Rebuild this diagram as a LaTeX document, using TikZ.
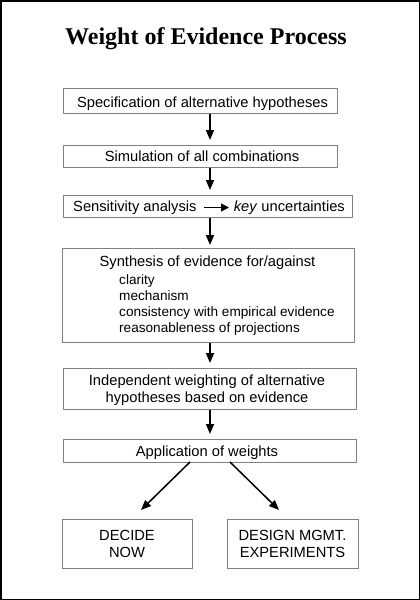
\documentclass[tikz,border=0pt]{standalone}
\usepackage{fontspec}
\setmainfont{Liberation Sans}
\newfontfamily\titlefont{Liberation Serif}
\usetikzlibrary{arrows.meta}
\tikzset{
  box/.style={draw=black!50, line width=0.8pt, fill=white, inner sep=0pt, anchor=north west},
  txt/.style={inner sep=0pt, anchor=base, font=\fontsize{14.7}{17}\selectfont},
  sub/.style={inner sep=0pt, anchor=base west, font=\fontsize{13.6}{16}\selectfont},
  arr/.style={line width=1.5pt, -{Triangle[length=10pt,width=8pt]}},
  smallarr/.style={line width=1.5pt, -{Triangle[length=8pt,width=8pt]}}
}
\begin{document}
\begin{tikzpicture}[x=1pt,y=-1pt]
\useasboundingbox (0,0) rectangle (420,600);
\draw[line width=1.5pt] (0.75,0.75) rectangle (419.25,599.25);
% title
\node[inner sep=0pt, anchor=base, font=\titlefont\bfseries\fontsize{24}{28}\selectfont] (title) at (206,44.5) {Weight of Evidence Process};
% boxes
\node[box, minimum width=274pt, minimum height=25pt] (b1) at (63,88) {};
\node[box, minimum width=274pt, minimum height=22pt] (b2) at (63,145) {};
\node[box, minimum width=289pt, minimum height=22pt] (b3) at (63,195) {};
\node[box, minimum width=292pt, minimum height=94pt] (b4) at (62,248) {};
\node[box, minimum width=293pt, minimum height=41pt] (b5) at (63,368) {};
\node[box, minimum width=293pt, minimum height=23pt] (b6) at (63,439) {};
\node[box, minimum width=130pt, minimum height=49pt] (b7) at (62,519) {};
\node[box, minimum width=131pt, minimum height=49pt] (b8) at (227,519) {};
% texts
\node[txt] (t1) at (202.5,107) {Specification of alternative hypotheses};
\node[txt] (t2) at (202,161.5) {Simulation of all combinations};
\node[txt, anchor=base west] (t3a) at (73,211.5) {Sensitivity analysis};
\node[txt, anchor=base east] (t3b) at (345,211.5) {\textit{key} uncertainties};
\node[txt] (t4) at (207.5,266) {Synthesis of evidence for/against};
\node[sub] (s1) at (119,284) {clarity};
\node[sub] (s2) at (119,300) {mechanism};
\node[sub] (s3) at (119,316) {consistency with empirical evidence};
\node[sub] (s4) at (119,332) {reasonableness of projections};
\node[txt] (t5a) at (207,385.5) {Independent weighting of alternative};
\node[txt] (t5b) at (207,402.5) {hypotheses based on evidence};
\node[txt] (t6) at (207,456) {Application of weights};
\node[txt] (t7a) at (127,540) {DECIDE};
\node[txt] (t7b) at (127,557) {NOW};
\node[txt] (t8a) at (292.5,540) {DESIGN MGMT.};
\node[txt] (t8b) at (292.5,557) {EXPERIMENTS};
% inline arrow
\coordinate (ia) at (204,207.5);
\coordinate (ib) at (229,207.5);
\draw[smallarr] (ia) -- (ib);
% arrows
\coordinate (ax) at (210,0);
\draw[arr, shorten >=5pt] (b1.south -| ax) -- (b2.north -| ax);
\draw[arr, shorten >=5pt] (b2.south -| ax) -- (b3.north -| ax);
\draw[arr, shorten >=3pt] (b3.south -| ax) -- (b4.north -| ax);
\draw[arr, shorten >=5pt] (b4.south -| ax) -- (b5.north -| ax);
\draw[arr, shorten >=5pt] (b5.south -| ax) -- (b6.north -| ax);
\coordinate (d1s) at (190,462);
\coordinate (d1e) at (141,510);
\coordinate (d2s) at (230,462);
\coordinate (d2e) at (279,510);
\draw[arr] (d1s) -- (d1e);
\draw[arr] (d2s) -- (d2e);
\end{tikzpicture}
\end{document}
